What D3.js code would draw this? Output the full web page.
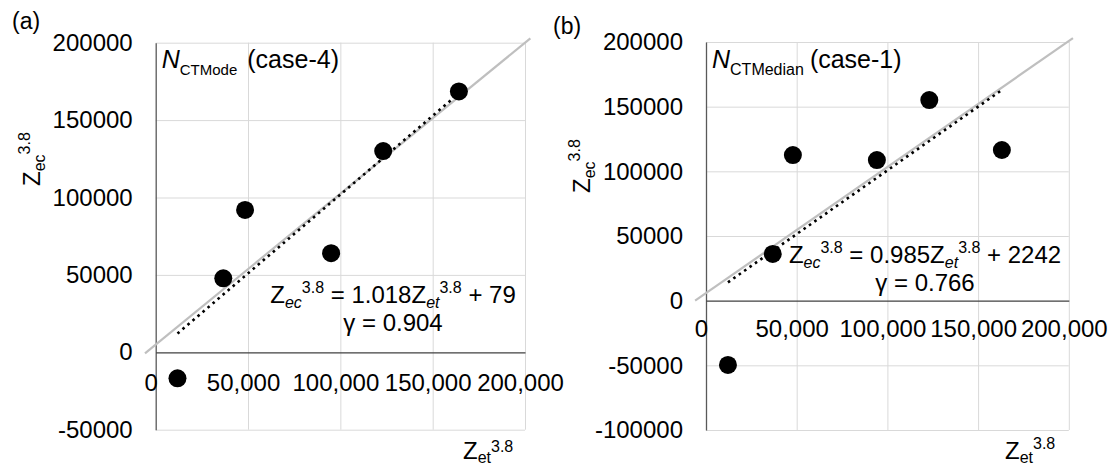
<!DOCTYPE html>
<html>
<head>
<meta charset="utf-8">
<script src="https://cdn.jsdelivr.net/npm/d3@7"></script>
<style>
  body { margin: 0; background: #fff; }
  svg { display: block; font-family: "Liberation Sans", Arial, sans-serif; }
</style>
</head>
<body>
<svg id="chart" width="1112" height="465"></svg>
<script>
// Z_et^3.8 (x) and Z_ec^3.8 (y) for each case
const zetA = [11800, 36600, 48400, 95000, 123200, 164200];
const zecA = [-16800, 47800, 92000, 64000, 130000, 168500];
const zetB = [12100, 36800, 47900, 94200, 123100, 163100];
const zecB = [-49700, 36100, 112600, 108700, 155100, 116500];

// linear fit: slope, intercept, correlation
const fitA = [1.018, 79, 0.904];
const fitB = [0.985, 2242, 0.766];

// reference diagonal end points
const diagAx = [-5800, 202900], diagAy = [-650, 202800];
const diagBx = [-6000, 202300], diagBy = [0, 203000];

// axis ticks
const xTicks = [0, 50000, 100000, 150000, 200000];
const yTicksA = [-50000, 0, 50000, 100000, 150000, 200000];
const yTicksB = [-100000, -50000, 0, 50000, 100000, 150000, 200000];

const svg = d3.select("#chart");
const FS = 24, SUB = 16;
const fmtX = d3.format(",");
const fmtY = d => String(d);

function drawPanel(p) {
  const x = d3.scaleLinear().domain([0, 200000]).range([p.left, p.right]);
  const y = d3.scaleLinear().domain(p.yDomain).range([p.bottom, p.top]);
  const g = svg.append("g");

  // vertical grid
  g.append("g")
    .attr("transform", `translate(0,${p.bottom})`)
    .call(d3.axisBottom(x).tickValues(xTicks.slice(1)).tickSize(-(p.bottom - p.top)).tickFormat(""))
    .call(s => s.select(".domain").remove())
    .call(s => s.selectAll("line").attr("stroke", "#d9d9d9").attr("stroke-width", 1));

  // horizontal grid
  g.append("g")
    .attr("transform", `translate(${p.left},0)`)
    .call(d3.axisLeft(y).tickValues(p.yTicks.filter(v => v !== 0)).tickSize(-(p.right - p.left)).tickFormat(""))
    .call(s => s.select(".domain").remove())
    .call(s => s.selectAll("line").attr("stroke", "#d9d9d9").attr("stroke-width", 1));

  // y axis labels + line
  g.append("g")
    .attr("transform", `translate(${p.left},0)`)
    .call(d3.axisLeft(y).tickValues(p.yTicks).tickSize(0).tickPadding(23).tickFormat(fmtY))
    .call(s => s.select(".domain").attr("stroke", "#595959").attr("stroke-width", 1.3))
    .call(s => s.selectAll("text").attr("font-size", FS).attr("fill", "#000")
      .attr("font-family", "Liberation Sans, Arial, sans-serif"));

  // x axis at zero
  g.append("g")
    .attr("transform", `translate(0,${y(0)})`)
    .call(d3.axisBottom(x).tickValues(xTicks).tickSize(0).tickPadding(p.xPad).tickFormat(fmtX))
    .call(s => s.select(".domain").attr("stroke", "#404040").attr("stroke-width", 1.3))
    .call(s => s.selectAll("text").attr("font-size", FS).attr("fill", "#000").attr("dx", -5)
      .attr("font-family", "Liberation Sans, Arial, sans-serif"));

  // reference diagonal
  g.append("line")
    .attr("x1", x(p.diagX[0])).attr("y1", y(p.diagY[0]))
    .attr("x2", x(p.diagX[1])).attr("y2", y(p.diagY[1]))
    .attr("stroke", "#bfbfbf").attr("stroke-width", 2.2);

  // fitted line, dotted
  const xs = d3.extent(p.zet);
  const line = d3.line().x(d => x(d)).y(d => y(p.fit[0] * d + p.fit[1]));
  g.append("path")
    .attr("d", line(xs))
    .attr("fill", "none").attr("stroke", "#000").attr("stroke-width", 2.6)
    .attr("stroke-dasharray", "2.6 4");

  // points
  g.selectAll("circle").data(d3.zip(p.zet, p.zec)).join("circle")
    .attr("cx", d => x(d[0])).attr("cy", d => y(d[1])).attr("r", 9)
    .attr("fill", "#000");

  // panel tag
  svg.append("text").attr("x", p.tagX).attr("y", p.tagY)
    .attr("font-size", 23).attr("fill", "#000").text(p.tag);

  // case label
  const cl = svg.append("text").attr("x", p.left + 6).attr("y", 68).attr("fill", "#000");
  cl.append("tspan").attr("font-size", 25).attr("font-style", "italic").text("N");
  cl.append("tspan").attr("font-size", p.subFs).attr("dy", 7).text(p.sub);
  cl.append("tspan").attr("font-size", 25).attr("dy", -7).attr("dx", p.caseDx).text(p.caseText);

  // equation
  const eq = svg.append("text").attr("x", p.eqX).attr("y", p.eqY)
    .attr("text-anchor", "middle").attr("fill", "#000").attr("font-size", FS);
  eq.append("tspan").text("Z");
  eq.append("tspan").attr("font-size", SUB).attr("font-style", "italic").attr("dy", 5).text("ec");
  eq.append("tspan").attr("font-size", SUB).attr("dy", -15).text("3.8");
  eq.append("tspan").attr("dy", 10).text(` = ${p.fit[0].toFixed(3)}Z`);
  eq.append("tspan").attr("font-size", SUB).attr("font-style", "italic").attr("dy", 5).text("et");
  eq.append("tspan").attr("font-size", SUB).attr("dy", -15).text("3.8");
  eq.append("tspan").attr("dy", 10).text(` + ${p.fit[1]}`);

  svg.append("text").attr("x", p.eqX).attr("y", p.eqY + 28)
    .attr("text-anchor", "middle").attr("fill", "#000").attr("font-size", FS)
    .text(`γ = ${p.fit[2].toFixed(3)}`);

  // y title (rotated)
  const yt = svg.append("text")
    .attr("transform", `translate(${p.yTitleX},${p.yTitleY}) rotate(-90)`)
    .attr("fill", "#000").attr("font-size", 24);
  yt.append("tspan").text("Z");
  yt.append("tspan").attr("font-size", SUB).attr("dy", 5).text("ec");
  yt.append("tspan").attr("font-size", SUB).attr("dy", -15).text("3.8");

  // x title
  const xt = svg.append("text").attr("x", p.xTitleX).attr("y", 459)
    .attr("fill", "#000").attr("font-size", 24);
  xt.append("tspan").text("Z");
  xt.append("tspan").attr("font-size", SUB).attr("dy", 4).text("et");
  xt.append("tspan").attr("font-size", SUB).attr("dy", p.xSupDy).text("3.8");
}

drawPanel({
  left: 155.7, right: 525, top: 42.7, bottom: 429.7,
  yDomain: [-50000, 200000], yTicks: yTicksA,
  zet: zetA, zec: zecA, fit: fitA, diagX: diagAx, diagY: diagAy,
  xPad: 22, tag: "(a)", tagX: 12, tagY: 29,
  sub: "CTMode", subFs: 15, caseText: "(case-4)", caseDx: 10,
  eqX: 393, eqY: 303,
  yTitleX: 40, yTitleY: 186, xTitleX: 463, xSupDy: -11
});

drawPanel({
  left: 706, right: 1068.8, top: 42, bottom: 430,
  yDomain: [-100000, 200000], yTicks: yTicksB,
  zet: zetB, zec: zecB, fit: fitB, diagX: diagBx, diagY: diagBy,
  xPad: 19, tag: "(b)", tagX: 553, tagY: 34,
  sub: "CTMedian", subFs: 16, caseText: "(case-1)", caseDx: 6,
  eqX: 925, eqY: 263,
  yTitleX: 590, yTitleY: 193, xTitleX: 1005, xSupDy: -14
});
</script>
</body>
</html>
